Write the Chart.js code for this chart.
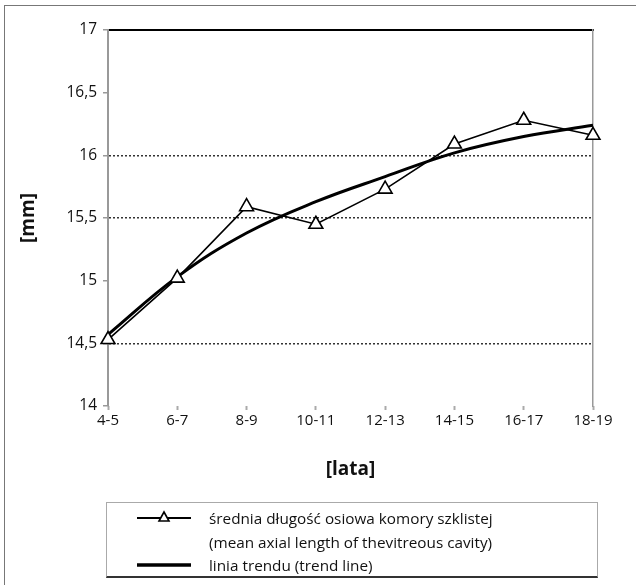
<!DOCTYPE html>
<html>
<head>
<meta charset="utf-8">
<script src="https://cdn.jsdelivr.net/npm/chart.js@4"></script>
<style>
  body { margin: 0; background: #fff; }
  #wrap { position: relative; width: 636px; height: 585px; overflow: hidden; }
  #frame { position: absolute; left: 4px; top: 5px; width: 700px; height: 700px; border: 1px solid #777; box-sizing: border-box; }
  canvas { position: absolute; left: 0; top: 0; }
  #legend {
    position: absolute; left: 106px; top: 502px; width: 492px; height: 76px;
    border: 1px solid #aaa; border-bottom: 2px solid #333; box-sizing: border-box;
    font-family: "Open Sans", sans-serif; font-size: 15.3px; color: #111;
  }
  .row { position: absolute; left: 0; height: 24px; line-height: 24px; }
  .row svg { position: absolute; left: 30px; top: 0; }
  .row span { position: absolute; left: 102px; white-space: nowrap; }
</style>
</head>
<body>
<div id="wrap">
  <div id="frame"></div>
  <canvas id="chart" width="636" height="585"></canvas>
  <div id="legend">
    <div class="row" style="top:3px"><svg width="56" height="24"><line x1="0" y1="12" x2="54" y2="12" stroke="#000" stroke-width="2"/><polygon points="27,6 32,15 22,15" fill="#fff" stroke="#000" stroke-width="1.6"/></svg><span>średnia długość osiowa komory szklistej</span></div>
    <div class="row" style="top:27px"><span>(mean axial length of thevitreous cavity)</span></div>
    <div class="row" style="top:50px"><svg width="56" height="24"><line x1="0" y1="12" x2="54" y2="12" stroke="#000" stroke-width="3.5"/></svg><span>linia trendu (trend line)</span></div>
  </div>
</div>
<script>
// age groups (years)
const ageGroups = ['4-5', '6-7', '8-9', '10-11', '12-13', '14-15', '16-17', '18-19'];
// mean axial length of the vitreous cavity [mm]
const meanLength = [14.53, 15.02, 15.59, 15.45, 15.73, 16.09, 16.28, 16.16];
// trend line values
const trendLine = [14.57, 15.03, 15.38, 15.63, 15.83, 16.02, 16.15, 16.24];
// values that get a dotted grid line
const dottedAt = [14.5, 15.5, 16];

const fontFamily = '"Open Sans", sans-serif';
const fmt = (v) => String(v).replace('.', ',');

new Chart(document.getElementById('chart'), {
  type: 'line',
  data: {
    labels: ageGroups,
    datasets: [
      {
        label: 'średnia długość osiowa komory szklistej',
        data: meanLength,
        borderColor: '#000',
        borderWidth: 1.6,
        pointStyle: 'triangle',
        pointRadius: 8,
        pointBackgroundColor: '#fff',
        pointBorderColor: '#000',
        pointBorderWidth: 1.6,
        tension: 0,
        order: 0
      },
      {
        label: 'linia trendu',
        data: trendLine,
        borderColor: '#000',
        borderWidth: 3,
        pointRadius: 0,
        tension: 0.4,
        order: 1
      }
    ]
  },
  options: {
    responsive: false,
    animation: false,
    layout: { padding: { top: 30, right: 43, bottom: 99, left: 0 } },
    plugins: { legend: { display: false }, tooltip: { enabled: false } },
    scales: {
      x: {
        offset: false,
        grid: { drawOnChartArea: false, tickLength: 4, tickColor: '#aaa', tickWidth: 2 },
        border: { display: false },
        ticks: { color: '#111', padding: 2, font: { family: fontFamily, size: 15 } },
        title: { display: true, text: '[lata]', color: '#111', padding: { top: 0, bottom: 5 }, font: { family: fontFamily, size: 19, weight: 'bold' } },
        afterFit: (s) => { s.height = 80; }
      },
      x2: {
        position: 'top',
        offset: false,
        grid: { display: false },
        ticks: { display: false },
        border: { display: true, color: '#000', width: 2 },
        afterFit: (s) => { s.height = 0; }
      },
      y: {
        min: 14,
        max: 17,
        ticks: {
          stepSize: 0.5,
          color: '#111',
          padding: 6,
          font: { family: fontFamily, size: 15.5 },
          callback: (v) => fmt(v)
        },
        grid: {
          color: (ctx) => dottedAt.includes(ctx.tick && ctx.tick.value) ? '#333' : 'rgba(0,0,0,0)',
          lineWidth: 1.5,
          tickLength: 5,
          tickColor: '#999'
        },
        border: { display: true, color: '#999', width: 2, dash: [2, 2] },
        title: { display: true, text: '[mm]', color: '#111', padding: { top: 17, bottom: 0 }, font: { family: fontFamily, size: 19, weight: 'bold' } },
        afterFit: (s) => { s.width = 108; }
      },
      y2: {
        position: 'right',
        min: 14,
        max: 17,
        grid: { display: false },
        ticks: { display: false },
        border: { display: true, color: '#999', width: 1.5 },
        afterFit: (s) => { s.width = 0; }
      }
    }
  }
});
</script>
</body>
</html>
